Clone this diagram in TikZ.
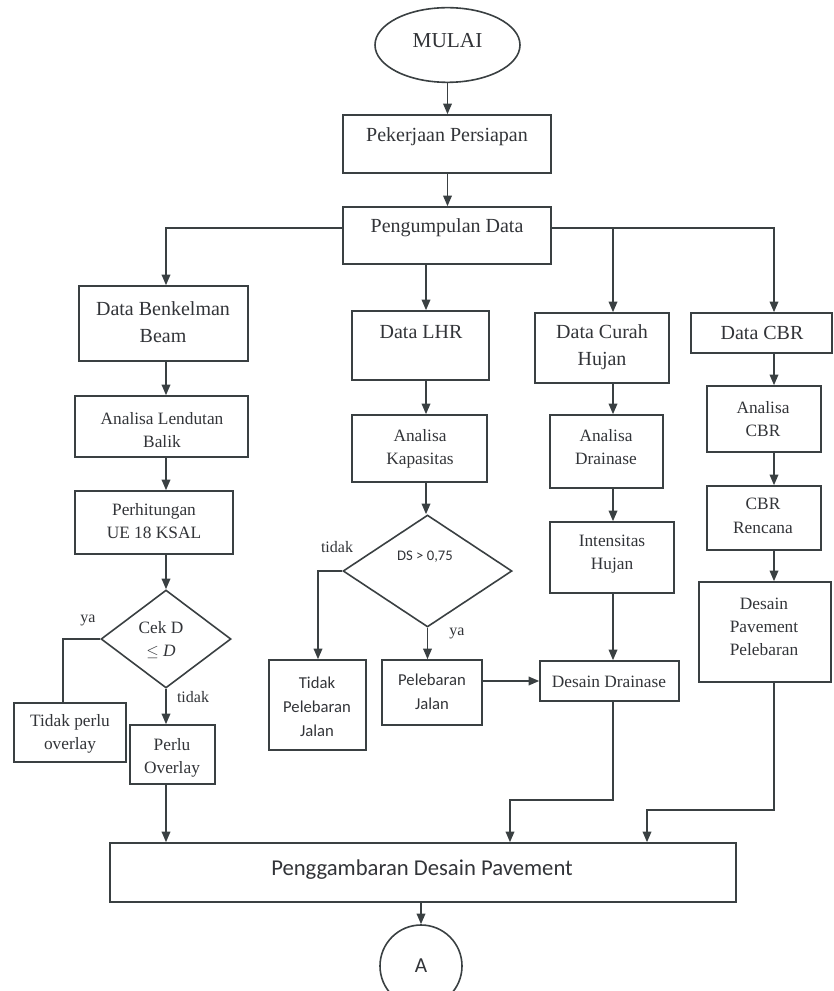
\documentclass[tikz,border=0pt]{standalone}
\usepackage{fontspec}
\setmainfont{Liberation Serif}
\newfontfamily\calfont{Carlito}
\usetikzlibrary{arrows.meta,shapes.geometric,fit,calc}
\definecolor{ln}{RGB}{58,64,66}
\definecolor{tx}{RGB}{50,52,56}
\tikzset{
  box/.style={draw=ln,line width=1.2pt,inner sep=0pt,fill=none},
  arr/.style={draw=ln,line width=1.2pt,-{Triangle[length=8pt,width=6.5pt]}},
  ln/.style={draw=ln,line width=1.2pt},
  hd/.style={text=tx,font=\fontsize{15}{20}\selectfont,align=center,inner sep=0pt},
  tt/.style={text=tx,font=\fontsize{13}{17.5}\selectfont,align=center,inner sep=0pt},
  ts/.style={text=tx,font=\calfont\fontsize{12.5}{18}\selectfont,align=center,inner sep=0pt},
  lb/.style={text=tx,font=\fontsize{12}{14}\selectfont,inner sep=0pt},
}
\begin{document}
\begin{tikzpicture}[x=0.75pt,y=-0.75pt]
\useasboundingbox (0,0) rectangle (833,991);
% column coordinates
\coordinate (c1) at (166,0);
\coordinate (c2) at (426,0);
\coordinate (c3) at (613,0);
\coordinate (c4) at (774,0);

% top
\node[box,ellipse,minimum width=108.75pt,minimum height=56pt] (mulai) at (447.5,45) {};
\node[hd,font=\fontsize{16}{20}\selectfont] (mulai-t) at (447.5,41) {MULAI};
\node[box,fit={(343,115) (551,173)}] (pek) {};
\node[hd] (pek-t) at (447,137) {Pekerjaan Persiapan};
\node[box,fit={(343,207) (551,264)}] (peng) {};
\node[hd] (peng-t) at (447,228) {Pengumpulan Data};

% column 1
\node[box,fit={(79,286) (248,361)}] (benk) {};
\node[hd] (benk-t) at (163,322) {Data Benkelman\\Beam};
\node[box,fit={(75,396) (248,457)}] (lend) {};
\node[tt] (lend-t) at (162,430) {Analisa Lendutan\\Balik};
\node[box,fit={(75,491) (233,554)}] (perh) {};
\node[tt] (perh-t) at (154,521) {Perhitungan\\UE 18 KSAL};
\node[box,diamond,minimum width=97.5pt,minimum height=73.5pt] (cek) at (166,639) {};
\node[tt] (cek-t) at (161,640) {Cek D\\$\leq$ \textit{D}};
\node[box,fit={(14,703) (126,762)}] (tpo) {};
\node[tt] (tpo-t) at (70,734) {Tidak perlu\\overlay};
\node[box,fit={(130,725) (215,784)}] (perlu) {};
\node[tt] (perlu-t) at (172,758) {Perlu\\Overlay};
\node[lb] (ya1) at (88,620) {ya};
\node[lb] (tidak1) at (193,697) {tidak};

% column 2
\node[box,fit={(352,311) (489,380)}] (lhr) {};
\node[hd] (lhr-t) at (421,332) {Data LHR};
\node[box,fit={(352,415) (487,482)}] (kap) {};
\node[tt] (kap-t) at (420,449) {Analisa\\Kapasitas};
\node[box,diamond,minimum width=126.75pt,minimum height=84pt] (ds) at (427.5,571) {};
\node[ts,font=\calfont\fontsize{11}{13}\selectfont] (ds-t) at (425,557) {DS > 0,75};
\node[lb] (tidak2) at (337,547) {tidak};
\node[lb] (ya2) at (457,633) {ya};
\node[box,fit={(269,660) (366,750)}] (tpj) {};
\node[ts] (tpj-t) at (317,707) {Tidak\\Pelebaran\\Jalan};
\node[box,fit={(382,660) (482,725)}] (pj) {};
\node[ts] (pj-t) at (432,692) {Pelebaran\\Jalan};

% column 3
\node[box,fit={(535,313) (669,383)}] (curah) {};
\node[hd] (curah-t) at (602,347) {Data Curah\\Hujan};
\node[box,fit={(550,415) (663,488)}] (drain) {};
\node[tt] (drain-t) at (606,447) {Analisa\\Drainase};
\node[box,fit={(550,522) (674,593)}] (inten) {};
\node[tt] (inten-t) at (612,554) {Intensitas\\Hujan};
\node[box,fit={(540,661) (679,701)}] (dd) {};
\node[tt] (dd-t) at (609,682) {Desain Drainase};

% column 4
\node[box,fit={(691,313) (832,353)}] (cbr) {};
\node[hd] (cbr-t) at (762,333) {Data CBR};
\node[box,fit={(707,386) (821,452)}] (acbr) {};
\node[tt] (acbr-t) at (763,419) {Analisa\\CBR};
\node[box,fit={(707,486) (821,550)}] (cbrr) {};
\node[tt] (cbrr-t) at (763,516) {CBR\\Rencana};
\node[box,fit={(699,582) (831,682)}] (dpp) {};
\node[tt] (dpp-t) at (764,627) {Desain\\Pavement\\Pelebaran};

% bottom
\node[box,fit={(110,843) (736,902)}] (pengg) {};
\node[ts,font=\calfont\fontsize{17}{20}\selectfont] (pengg-t) at (422,870) {Penggambaran Desain Pavement};
\node[box,circle,minimum size=61.5pt] (a) at (421,966) {};
\node[ts,font=\calfont\fontsize{16}{20}\selectfont] (a-t) at (421,966) {A};

\coordinate (k1) at (510,800);
\coordinate (k2) at (647,810);

% connectors
\draw[arr] (mulai.south) -- (pek.north -| mulai.south);
\draw[arr] (pek.south -| mulai.south) -- (peng.north -| mulai.south);
\draw[arr] (peng-t -| peng.west) -| (benk.north -| c1);
\draw[arr] (peng-t -| peng.east) -| (cbr.north -| c4);
\draw[arr] (peng-t -| c3) -- (curah.north -| c3);
\draw[arr] (peng.south -| c2) -- (lhr.north -| c2);

\draw[arr] (benk.south -| c1) -- (lend.north -| c1);
\draw[arr] (lend.south -| c1) -- (perh.north -| c1);
\draw[arr] (perh.south -| cek.north) -- (cek.north);
\draw[ln] (cek.west) -| (tpo.north -| 63,0);
\draw[arr] (cek.south) -- (perlu.north -| cek.south);
\draw[arr] (perlu.south -| c1) -- (pengg.north -| c1);

\draw[arr] (lhr.south -| c2) -- (kap.north -| c2);
\draw[arr] (kap.south -| c2) -- (ds.north -| c2);
\draw[arr] (ds.west) -| (tpj.north -| 318,0);
\draw[arr] (ds.south) -- (pj.north -| ds.south);
\draw[arr] (pj.east |- dd.west) -- (dd.west);

\draw[arr] (curah.south -| c3) -- (drain.north -| c3);
\draw[arr] (drain.south -| c3) -- (inten.north -| c3);
\draw[arr] (inten.south -| c3) -- (dd.north -| c3);
\draw[arr] (dd.south -| c3) |- (k1) -- (pengg.north -| k1);

\draw[arr] (cbr.south -| c4) -- (acbr.north -| c4);
\draw[arr] (acbr.south -| c4) -- (cbrr.north -| c4);
\draw[arr] (cbrr.south -| c4) -- (dpp.north -| c4);
\draw[arr] (dpp.south -| c4) |- (k2) -- (pengg.north -| k2);

\draw[arr] (pengg.south -| a.north) -- (a.north);
\end{tikzpicture}
\end{document}
